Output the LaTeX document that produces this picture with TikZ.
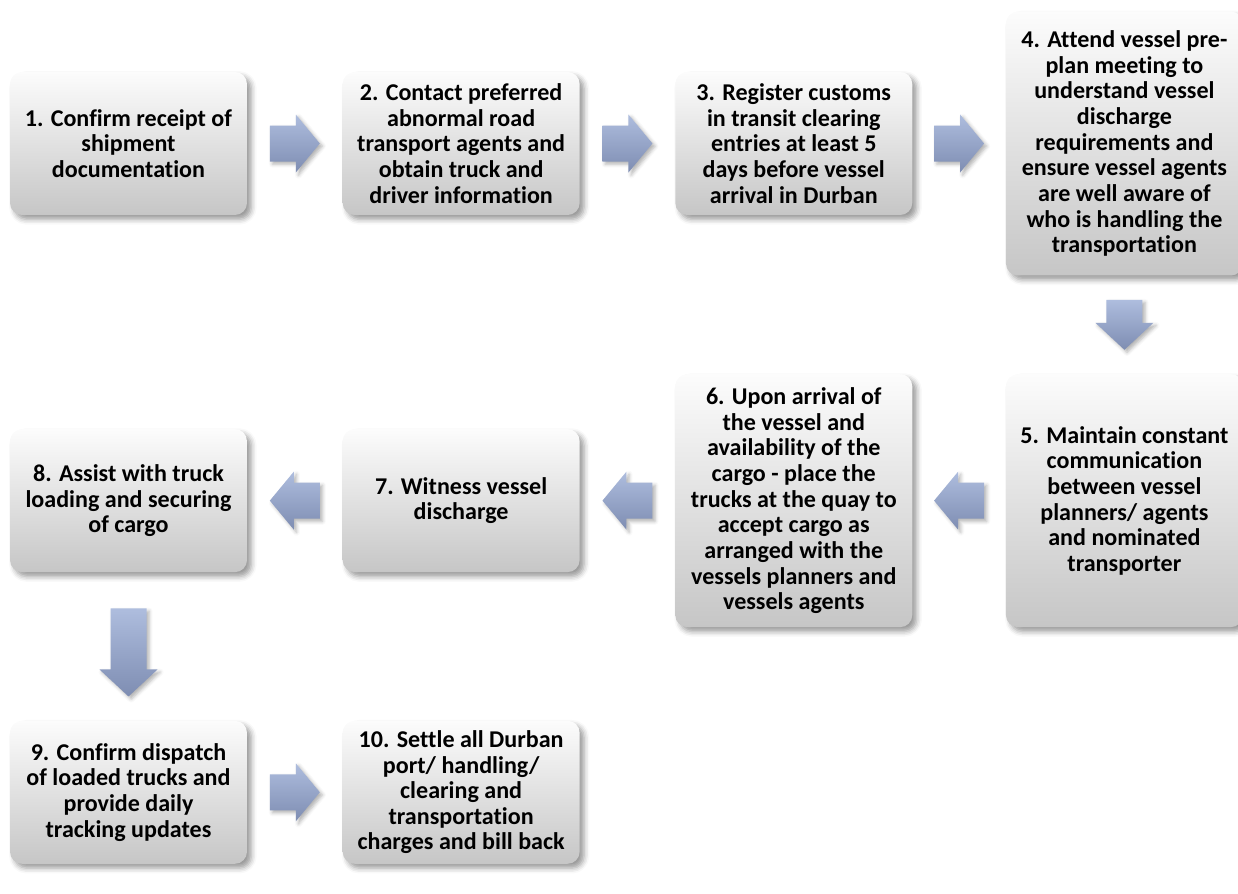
\documentclass[tikz,border=0pt]{standalone}
\usepackage{fontspec}
\setmainfont{Carlito}[Ligatures=NoCommon]
\usepackage{tikz}
\usetikzlibrary{positioning, calc, shadows.blur}

\definecolor{boxtop}{RGB}{252,252,252}
\definecolor{boxbot}{RGB}{198,198,198}
\definecolor{arrtop}{RGB}{174,189,222}
\definecolor{arrbot}{RGB}{126,141,178}

\begin{document}
\begin{tikzpicture}[
            x=0.02cm, y=-0.02cm,
            stepbox/.style={rectangle, rounded corners=0.24cm, top color=boxtop, bottom color=boxbot,
                            minimum width=4.74cm, minimum height=2.86cm, align=center, inner sep=0pt,
                            font=\fontsize{13.7}{14.6}\selectfont\bfseries,
                            blur shadow={shadow xshift=2.5pt, shadow yshift=-2.5pt,
                                         shadow blur radius=3pt, shadow opacity=40}},
            tallbox/.style  ={stepbox, minimum height=5.06cm},
            arrowshade/.style={top color=arrtop, bottom color=arrbot,
                            blur shadow={shadow xshift=1.5pt, shadow yshift=-1.5pt,
                                         shadow blur radius=2pt, shadow opacity=30}},
            pics/rarrow/.style={code={
                \shade[arrowshade] (-25,-18) -- (1,-18) -- (1,-29) -- (25,0) -- (1,29) -- (1,18) -- (-25,18) -- cycle;}},
            pics/larrow/.style={code={
                \shade[arrowshade] (25,-18) -- (-1,-18) -- (-1,-29) -- (-25,0) -- (-1,29) -- (-1,18) -- (25,18) -- cycle;}},
            pics/darrow/.style={code={
                \shade[arrowshade] (-18,-#1/2) -- (-18,#1/2-27) -- (-29,#1/2-27) -- (0,#1/2)
                                   -- (29,#1/2-27) -- (18,#1/2-27) -- (18,-#1/2) -- cycle;}},
            pics/darrow/.default=50
        ]
            \useasboundingbox (0,0) rectangle (1238,893);

            % first row, left to right
            \node[stepbox] (s1) at (128.5,143.5) {1. Confirm receipt of\\shipment\\documentation};
            \node[stepbox, right=1.9cm of s1] (s2) {2. Contact preferred\\abnormal road\\transport agents and\\obtain truck and\\driver information};
            \node[stepbox, right=1.9cm of s2] (s3) {3. Register customs\\in transit clearing\\entries at least 5\\days before vessel\\arrival in Durban};
            \node[stepbox, minimum height=5.28cm, right=1.86cm of s3] (s4) {4. Attend vessel pre-\\plan meeting to\\understand vessel\\discharge\\requirements and\\ensure vessel agents\\are well aware of\\who is handling the\\transportation};

            % second row, right to left
            \node[tallbox, below=1.96cm of s4] (s5) {5. Maintain constant\\communication\\between vessel\\planners/ agents\\and nominated\\transporter};
            \node[tallbox, left=1.86cm of s5]  (s6) {6. Upon arrival of\\the vessel and\\availability of the\\cargo - place the\\trucks at the quay to\\accept cargo as\\arranged with the\\vessels planners and\\vessels agents};
            \node[stepbox, left=1.9cm of s6]   (s7) {7. Witness vessel\\discharge};
            \node[stepbox, left=1.9cm of s7]   (s8) {8. Assist with truck\\loading and securing\\of cargo};

            % last row
            \node[stepbox, below=2.96cm of s8] (s9)  {9. Confirm dispatch\\of loaded trucks and\\provide daily\\tracking updates};
            \node[stepbox, right=1.9cm of s9]  (s10) {10. Settle all Durban\\port/ handling/\\clearing and\\transportation\\charges and bill back};

            % block arrows between the steps
            \pic at ($(s1.east)!0.5!(s2.west)$) {rarrow};
            \pic at ($(s2.east)!0.5!(s3.west)$) {rarrow};
            \pic at ($(s3.east)!0.5!(s4.west)$) {rarrow};
            \pic at ($(s4.south)!0.5!(s5.north)$) {darrow};
            \pic at ($(s5.west)!0.5!(s6.east)$) {larrow};
            \pic at ($(s6.west)!0.5!(s7.east)$) {larrow};
            \pic at ($(s7.west)!0.5!(s8.east)$) {larrow};
            \pic at ($(s8.south)!0.5!(s9.north)+(0,6)$) {darrow=88};
            \pic at ($(s9.east)!0.5!(s10.west)$) {rarrow};
        \end{tikzpicture}
\end{document}
